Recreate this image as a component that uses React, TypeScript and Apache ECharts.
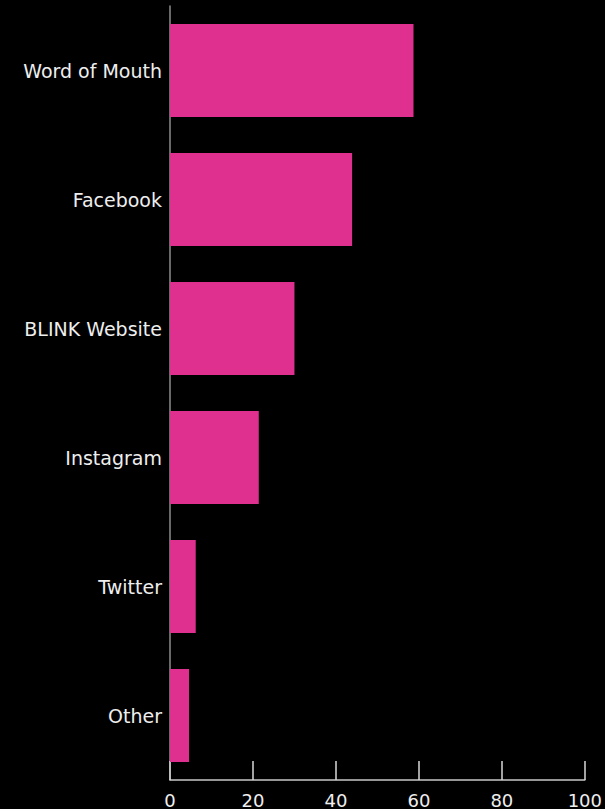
import React, { useEffect, useRef } from "react";
import * as echarts from "echarts";

const categories = ["Word of Mouth", "Facebook", "BLINK Website", "Instagram", "Twitter", "Other"];
const values = [58.7, 43.9, 30.0, 21.4, 6.2, 4.6];
const xTicks = [0, 20, 40, 60, 80, 100];

export default function App() {
  const ref = useRef<HTMLDivElement>(null);
  useEffect(() => {
    document.body.style.margin = "0";
    document.body.style.background = "#000";
    const chart = echarts.init(ref.current!, null, { renderer: "svg" });
    chart.setOption({
      animation: false,
      backgroundColor: "#000000",
      grid: { left: 170, right: 19, top: 6, bottom: 28, containLabel: false },
      xAxis: {
        type: "value",
        min: xTicks[0],
        max: xTicks[xTicks.length - 1],
        interval: 20,
        axisLine: { show: true, lineStyle: { color: "#c8c8c8", width: 1.5 } },
        axisTick: { show: true, inside: true, length: 19, lineStyle: { color: "#d8d8d8", width: 1.5 } },
        axisLabel: { color: "#eeeeee", fontSize: 18, fontFamily: "DejaVu Sans", margin: 11 },
        splitLine: { show: false },
      },
      yAxis: {
        type: "category",
        data: categories,
        inverse: true,
        axisLine: { show: true, lineStyle: { color: "#8c8c8c", width: 1.5 } },
        axisTick: { show: false },
        axisLabel: { color: "#eeeeee", fontSize: 19, fontFamily: "DejaVu Sans", margin: 8 },
      },
      series: [
        {
          type: "bar",
          data: values,
          barCategoryGap: "28%",
          itemStyle: { color: "#e0308f" },
        },
      ],
    });
    return () => chart.dispose();
  }, []);
  return <div ref={ref} style={{ width: 605, height: 809 }} />;
}
